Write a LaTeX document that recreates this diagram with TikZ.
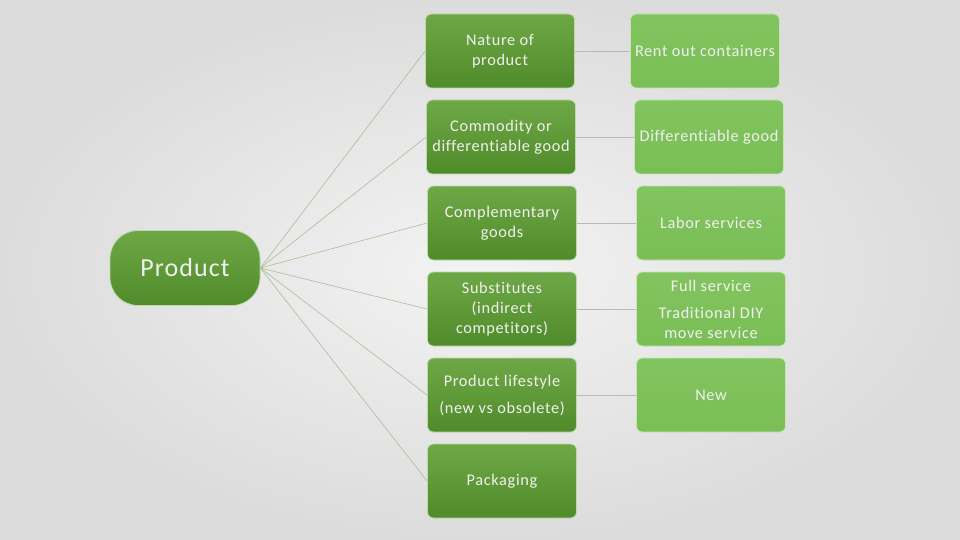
\documentclass[tikz,border=0pt]{standalone}
\usepackage{fontspec}
\setmainfont{Carlito}[Ligatures=NoCommon]
\newfontfamily\boxfont{Carlito}[LetterSpace=4,Ligatures=NoCommon]
\begin{document}
\begin{tikzpicture}[x=1pt,y=-1pt,
  leftbox/.style={rectangle, rounded corners=6pt, minimum width=149pt, minimum height=74pt,
    top color=lgtop, bottom color=lgbot, draw=white!55!lgtop, line width=0.8pt,
    text=white!94!black, align=center, font=\boxfont\fontsize{16.3}{20}\selectfont, inner sep=2pt},
  rightbox/.style={rectangle, rounded corners=6pt, minimum width=149pt, minimum height=74pt,
    top color=rgtop, bottom color=rgbot, draw=white!55!rgtop, line width=0.8pt,
    text=white!94!black, align=center, font=\boxfont\fontsize{16.3}{20}\selectfont, inner sep=2pt},
  prodbox/.style={rectangle, rounded corners=28pt, minimum width=150pt, minimum height=75pt,
    top color=lgtop, bottom color=lgbot, draw=white!55!lgtop, line width=0.8pt,
    text=white!94!black, font=\boxfont\fontsize{26}{30}\selectfont},
  spoke/.style={draw=spokecol, line width=0.6pt},
  link/.style={draw=linkcol, line width=0.8pt}
]
\definecolor{lgtop}{RGB}{110,168,70}
\definecolor{lgbot}{RGB}{80,139,43}
\definecolor{rgtop}{RGB}{130,196,95}
\definecolor{rgbot}{RGB}{122,190,86}
\definecolor{spokecol}{RGB}{170,190,150}
\definecolor{linkcol}{RGB}{185,185,185}
\definecolor{bgin}{RGB}{243,243,243}
\definecolor{bgout}{RGB}{220,220,220}

\shade[inner color=bgin, outer color=bgout] (0,0) rectangle (960,540);
\useasboundingbox (0,0) rectangle (960,540);

\node[prodbox] (prod) at (185,268) {Product};

\node[leftbox] (l1) at (500,51) {Nature of\\product};
\node[leftbox] (l2) at (501,137) {Commodity or\\differentiable good};
\node[leftbox] (l3) at (502,223) {Complementary\\goods};
\node[leftbox] (l4) at (502,309) {Substitutes\\(indirect\\competitors)};
\node[leftbox] (l5) at (502,395) {Product lifestyle\\[7pt](new vs obsolete)};
\node[leftbox] (l6) at (502,481) {Packaging};

\node[rightbox] (r1) at (705,51) {Rent out containers};
\node[rightbox] (r2) at (709,137) {Differentiable good};
\node[rightbox] (r3) at (711,223) {Labor services};
\node[rightbox] (r4) at (711,309) {Full service\\[7pt]Traditional DIY\\move service};
\node[rightbox] (r5) at (711,395) {New};

\foreach \n in {l1,l2,l3,l4,l5,l6}
  \draw[spoke] (prod.east) -- (\n.west);
\draw[link] (l1.east) -- (r1.west);
\draw[link] (l2.east) -- (r2.west);
\draw[link] (l3.east) -- (r3.west);
\draw[link] (l4.east) -- (r4.west);
\draw[link] (l5.east) -- (r5.west);
\end{tikzpicture}
\end{document}
